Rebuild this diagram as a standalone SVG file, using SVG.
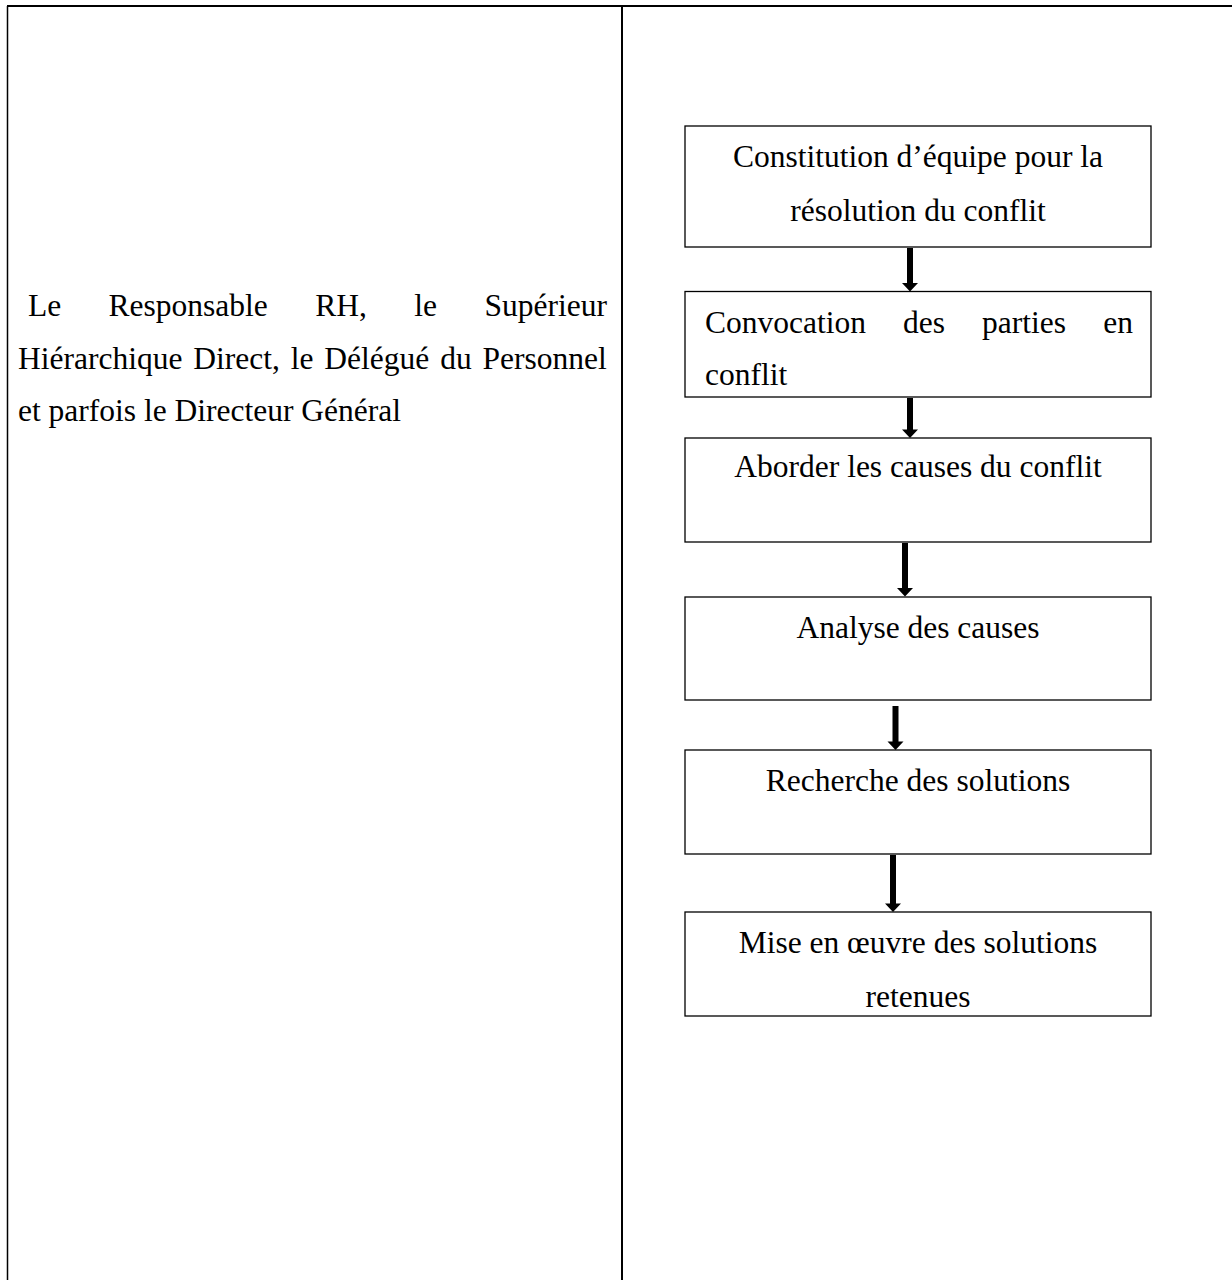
<svg xmlns="http://www.w3.org/2000/svg" width="1232" height="1280" viewBox="0 0 1232 1280">
<style>
text{font-family:"Liberation Serif","Times New Roman",serif;font-size:31.5px;fill:#000}
.c{text-anchor:middle}
.box{fill:#fff;stroke:#000;stroke-width:1.3}
.tb{stroke:#000;fill:none}
.ar{fill:#000;stroke:none}
</style>
<rect width="1232" height="1280" fill="#fff"/>
<g id="table">
<line class="tb" x1="7" y1="6" x2="1232" y2="6" stroke-width="2"/>
<line class="tb" x1="7.5" y1="6" x2="7.5" y2="1280" stroke-width="1.5"/>
<line class="tb" x1="622" y1="6" x2="622" y2="1280" stroke-width="2"/>
</g>
<g id="actors">
<text x="28" y="316">Le</text>
<text x="108.6" y="316">Responsable</text>
<text x="315.2" y="316">RH,</text>
<text x="414.2" y="316">le</text>
<text x="607" y="316" text-anchor="end">Supérieur</text>
<text x="18" y="369" word-spacing="3">Hiérarchique Direct, le Délégué du Personnel</text>
<text x="18" y="421">et parfois le Directeur Général</text>
</g>
<g id="connectors">
<path class="ar" d="M907,248 H913 V283 H918 L910,291.5 L902,283 H907 Z"/>
<path class="ar" d="M907,398 H913 V429.5 H918 L910,438 L902,429.5 H907 Z"/>
<path class="ar" d="M902,543 H908 V588 H913 L905,596.5 L897,588 H902 Z"/>
<path class="ar" d="M892.5,706 H898.5 V741.5 H903.5 L895.5,750 L887.5,741.5 H892.5 Z"/>
<path class="ar" d="M890,855 H896 V903.5 H901 L893,912 L885,903.5 H890 Z"/>
</g>
<g id="n1">
<rect class="box" x="685" y="126" width="466" height="121"/>
<text class="c" x="918" y="167">Constitution d’équipe pour la</text>
<text class="c" x="918" y="221">résolution du conflit</text>
</g>
<g id="n2">
<rect class="box" x="685" y="291.5" width="466" height="105.5"/>
<text x="705" y="333">Convocation</text>
<text x="903" y="333">des</text>
<text x="982" y="333">parties</text>
<text x="1133" y="333" text-anchor="end">en</text>
<text x="705" y="385">conflit</text>
</g>
<g id="n3">
<rect class="box" x="685" y="438" width="466" height="104"/>
<text class="c" x="918" y="477">Aborder les causes du conflit</text>
</g>
<g id="n4">
<rect class="box" x="685" y="597" width="466" height="103"/>
<text class="c" x="918" y="638">Analyse des causes</text>
</g>
<g id="n5">
<rect class="box" x="685" y="750" width="466" height="104"/>
<text class="c" x="918" y="791">Recherche des solutions</text>
</g>
<g id="n6">
<rect class="box" x="685" y="912" width="466" height="104"/>
<text class="c" x="918" y="953">Mise en œuvre des solutions</text>
<text class="c" x="918" y="1007">retenues</text>
</g>
</svg>
